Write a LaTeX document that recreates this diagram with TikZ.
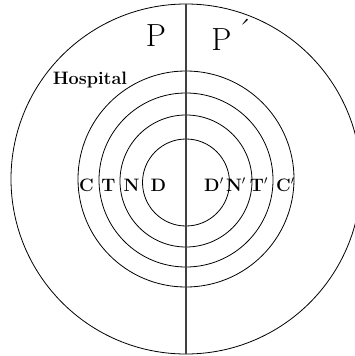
\documentclass[tikz,border=0pt]{standalone}
\usepackage{tikz}
\usetikzlibrary{calc}

\tikzset{
  zona/.style={font=\bfseries\fontsize{13.5}{15}\selectfont, inner sep=0pt},
  lato/.style={font=\fontsize{24}{26}\selectfont, inner sep=0pt}
}

\begin{document}
\begin{tikzpicture}[x=0.75pt,y=-0.75pt,line width=0.6pt]
  \useasboundingbox (0,0) rectangle (354,356);

  % cerchio esterno
  \draw (186,179) circle (175);
  % cerchi concentrici
  \draw (186,179) circle (108);
  \draw (186,180) circle (87);
  \draw (186,181) circle (66);
  \draw (186,182.5) circle (43.5);

  % divisione
  \coordinate (top) at (186,4);
  \coordinate (bot) at (186,354);
  \draw[black!75,line width=0.9pt] (top) -- (bot);

  % lati
  \node[lato] (p) at (156,36) {P};
  \node[lato,anchor=west] (pp) at (211,35) {P\raisebox{0.3em}{\,\'{}}};
  \node[zona] (hosp) at (90,80) {Hospital};

  % zone
  \node[zona] (c) at (86.5,185) {C};
  \node[zona] (t) at (108.5,185) {T};
  \node[zona] (n) at (131.5,185) {N};
  \node[zona] (d) at (158.5,185) {D};
  \node[zona] (d2) at (214,185) {D$'$};
  \node[zona] (n2) at (236,185) {N$'$};
  \node[zona] (t2) at (259,185) {T$'$};
  \node[zona] (c2) at (285.5,185) {C$'$};
\end{tikzpicture}
\end{document}
